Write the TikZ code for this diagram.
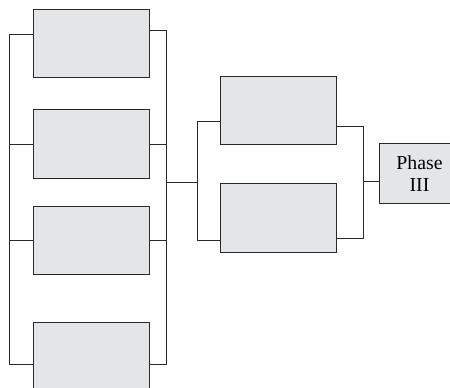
\documentclass[tikz,border=0pt]{standalone}
\usepackage{fontspec}
\setmainfont{Liberation Serif}
\definecolor{boxfill}{HTML}{E4E5E7}
\definecolor{linegray}{HTML}{2A2A2A}
\begin{document}
\begin{tikzpicture}[x=1pt,y=-1pt,
  box/.style={draw=linegray,fill=boxfill,line width=1pt,rectangle,inner sep=0pt,anchor=north west},
  conn/.style={draw=linegray,line width=1pt}]
\useasboundingbox (0,0) rectangle (450,388);
\clip (0,0) rectangle (450,388);
% left column
\node[box,minimum width=116pt,minimum height=68pt] (b1) at (33,9) {};
\node[box,minimum width=116pt,minimum height=69pt] (b2) at (33,109) {};
\node[box,minimum width=116pt,minimum height=68pt] (b3) at (33,206) {};
\node[box,minimum width=116pt,minimum height=68pt] (b4) at (33,322) {};
% middle column
\node[box,minimum width=116pt,minimum height=68pt] (m1) at (220,76) {};
\node[box,minimum width=116pt,minimum height=69pt] (m2) at (220,183) {};
% phase III
\node[box,minimum width=80pt,minimum height=60pt,align=center,font=\fontsize{19.8}{22.7}\selectfont] (p3) at (379,143) {Phase\\III};
% left bracket
\coordinate (lt) at (9.5,34.5);
\coordinate (lb) at (9.5,364.5);
\draw[conn] (b1.west |- lt) -- (lt) -- (lb) -- (b4.west |- lb);
\draw[conn] (b2.west |- 0,144.5) -- (9.5,144.5);
\draw[conn] (b3.west |- 0,240.5) -- (9.5,240.5);
% right bracket
\coordinate (rt) at (166.5,30.5);
\coordinate (rb) at (166.5,364.5);
\draw[conn] (b1.east |- rt) -- (rt) -- (rb) -- (b4.east |- rb);
\draw[conn] (b2.east |- 0,144.5) -- (166.5,144.5);
\draw[conn] (b3.east |- 0,240.5) -- (166.5,240.5);
% join to middle
\coordinate (mj) at (166.5,182.5);
\coordinate (ml) at (197.5,182.5);
\draw[conn] (mj) -- (ml);
\coordinate (mlt) at (197.5,121.5);
\coordinate (mlb) at (197.5,240.5);
\draw[conn] (m1.west |- mlt) -- (mlt) -- (mlb) -- (m2.west |- mlb);
% middle right bracket
\coordinate (mrt) at (363.5,126.5);
\coordinate (mrb) at (363.5,238.5);
\draw[conn] (m1.east |- mrt) -- (mrt) -- (mrb) -- (m2.east |- mrb);
\coordinate (pj) at (363.5,181.5);
\draw[conn] (pj) -- (p3.west |- pj);
\end{tikzpicture}
\end{document}
